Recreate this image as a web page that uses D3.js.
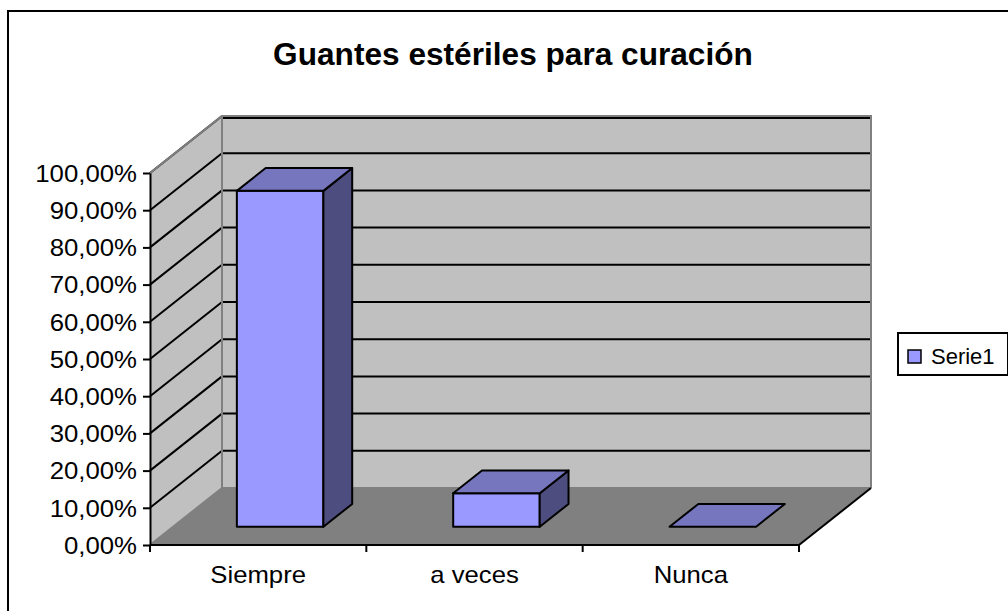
<!DOCTYPE html>
<html>
<head>
<meta charset="utf-8">
<style>
  body { margin: 0; background: #fff; }
  svg { display: block; font-family: "Liberation Sans", Arial, sans-serif; }
</style>
</head>
<body>
<div class="chart"></div>
<script src="https://d3js.org/d3.v7.min.js"></script>
<script>
  // datos
  const categories = ["Siempre", "a veces", "Nunca"];
  const values = [0.903, 0.09, 0];
  const yTicks = [0, 0.1, 0.2, 0.3, 0.4, 0.5, 0.6, 0.7, 0.8, 0.9, 1];
  const seriesName = "Serie1";
  const title = "Guantes estériles para curación";

  const W = 1008, H = 611;
  const dx = 72, dy = -57;          // profundidad 3D
  const zStart = 0.32, zLen = 0.40; // posicion de la barra en la profundidad

  const svg = d3.select(".chart").append("svg")
    .attr("width", W).attr("height", H);

  // estira un poco el texto a lo ancho, como en el original
  function stretch(sel, k) {
    sel.each(function () {
      const w = this.getComputedTextLength();
      d3.select(this).attr("textLength", w * k).attr("lengthAdjust", "spacingAndGlyphs");
    });
  }

  // borde exterior
  svg.append("rect")
    .attr("x", 8).attr("y", 11).attr("width", 1100).attr("height", 700)
    .attr("fill", "#fff").attr("stroke", "#000").attr("stroke-width", 2);

  svg.append("text")
    .attr("x", 513).attr("y", 65)
    .attr("text-anchor", "middle")
    .style("font-size", "31px").style("font-weight", "bold")
    .text(title)
    .call(stretch, 1.02);

  const x = d3.scaleBand().domain(categories).range([150, 799]);
  const y = d3.scaleLinear().domain([0, 1]).range([545, 173]);
  const x0 = x.range()[0], x1 = x.range()[1];
  const y0 = y(0), yTop = y(1);

  const pts = a => a.map(p => p.join(",")).join(" ");

  // paredes y piso
  svg.append("polygon") // pared lateral
    .attr("points", pts([[x0, yTop], [x0 + dx, yTop + dy], [x0 + dx, y0 + dy], [x0, y0]]))
    .attr("fill", "#c0c0c0");
  svg.append("polygon") // pared del fondo
    .attr("points", pts([[x0 + dx, yTop + dy], [x1 + dx, yTop + dy], [x1 + dx, y0 + dy], [x0 + dx, y0 + dy]]))
    .attr("fill", "#c0c0c0");
  svg.append("polygon") // piso
    .attr("points", pts([[x0, y0], [x1, y0], [x1 + dx, y0 + dy], [x0 + dx, y0 + dy]]))
    .attr("fill", "#808080");

  // lineas de division
  const grid = svg.append("g").attr("stroke", "#000").attr("stroke-width", 2);
  yTicks.filter(t => t > 0).forEach(t => {
    const yy = y(t);
    const off = t === 1 ? 2 : 0;
    grid.append("line")
      .attr("x1", x0 + dx).attr("x2", x1 + dx)
      .attr("y1", yy + dy + off).attr("y2", yy + dy + off);
    grid.append("line")
      .attr("x1", x0).attr("y1", yy)
      .attr("x2", x0 + dx).attr("y2", yy + dy);
  });

  // bordes de las paredes
  const edge = svg.append("g").attr("stroke", "#808080").attr("stroke-width", 2).attr("fill", "none");
  edge.append("polyline")
    .attr("points", pts([[x0, yTop], [x0 + dx, yTop + dy], [x1 + dx, yTop + dy], [x1 + dx, y0 + dy]]));
  edge.append("line")
    .attr("x1", x0 + dx).attr("y1", yTop + dy).attr("x2", x0 + dx).attr("y2", y0 + dy);
  edge.append("line")
    .attr("x1", x0).attr("y1", y0).attr("x2", x0 + dx).attr("y2", y0 + dy);
  edge.append("line")
    .attr("x1", x0 + dx).attr("y1", y0 + dy).attr("x2", x1 + dx).attr("y2", y0 + dy);
  svg.append("line")
    .attr("x1", x1).attr("y1", y0).attr("x2", x1 + dx).attr("y2", y0 + dy)
    .attr("stroke", "#000").attr("stroke-width", 2);

  // barras 3D
  const bw = x.bandwidth();
  const fx = zStart * dx, fy = zStart * dy;
  const bx = zLen * dx, by = zLen * dy;
  const bars = svg.append("g").attr("stroke", "#000").attr("stroke-width", 2).attr("stroke-linejoin", "round");
  categories.forEach((c, i) => {
    const left = x(c) + bw * 0.295 + fx;
    const right = left + bw * 0.4;
    const bot = y(0) + fy;
    const top = y(values[i]) + fy;
    if (values[i] > 0) {
      bars.append("rect")
        .attr("x", left).attr("y", top)
        .attr("width", right - left).attr("height", bot - top)
        .attr("fill", "#9999ff");
      bars.append("polygon")
        .attr("points", pts([[right, top], [right + bx, top + by], [right + bx, bot + by], [right, bot]]))
        .attr("fill", "#4d4d80");
    }
    bars.append("polygon")
      .attr("points", pts([[left, top], [left + bx, top + by], [right + bx, top + by], [right, top]]))
      .attr("fill", "#7676bf");
  });

  // eje Y
  const fmt = d => d3.format(".2f")(d * 100).replace(".", ",") + "%";
  const yAxis = svg.append("g")
    .attr("transform", `translate(${x0},0)`)
    .call(d3.axisLeft(y).tickValues(yTicks).tickFormat(fmt).tickSize(7).tickSizeOuter(0).tickPadding(6));
  yAxis.selectAll("path, line").attr("stroke", "#000").attr("stroke-width", 2);
  yAxis.selectAll("text").style("font-size", "23px").attr("fill", "#000").attr("dy", "0.36em")
    .call(stretch, 1.12);

  // eje X
  svg.append("line")
    .attr("x1", x0).attr("x2", x1).attr("y1", y0).attr("y2", y0)
    .attr("stroke", "#000").attr("stroke-width", 2);
  const xAxis = svg.append("g")
    .attr("transform", `translate(0,${y0})`)
    .call(d3.axisBottom(x).tickSize(0).tickPadding(21));
  xAxis.select(".domain").remove();
  xAxis.selectAll("text").style("font-size", "24px").attr("fill", "#000")
    .call(stretch, 1.07);
  const bounds = categories.map(c => x(c)).concat([x1]);
  svg.append("g").selectAll("line").data(bounds).join("line")
    .attr("x1", d => d).attr("x2", d => d)
    .attr("y1", y0).attr("y2", y0 + 7)
    .attr("stroke", "#000").attr("stroke-width", 2);

  // leyenda
  const lg = svg.append("g");
  lg.append("rect")
    .attr("x", 898).attr("y", 333).attr("width", 110).attr("height", 42)
    .attr("fill", "#fff").attr("stroke", "#000").attr("stroke-width", 2);
  lg.append("rect")
    .attr("x", 908).attr("y", 350).attr("width", 13).attr("height", 13)
    .attr("fill", "#9999ff").attr("stroke", "#000").attr("stroke-width", 1.5);
  lg.append("text")
    .attr("x", 931).attr("y", 364)
    .style("font-size", "22px")
    .text(seriesName);
</script>
</body>
</html>
